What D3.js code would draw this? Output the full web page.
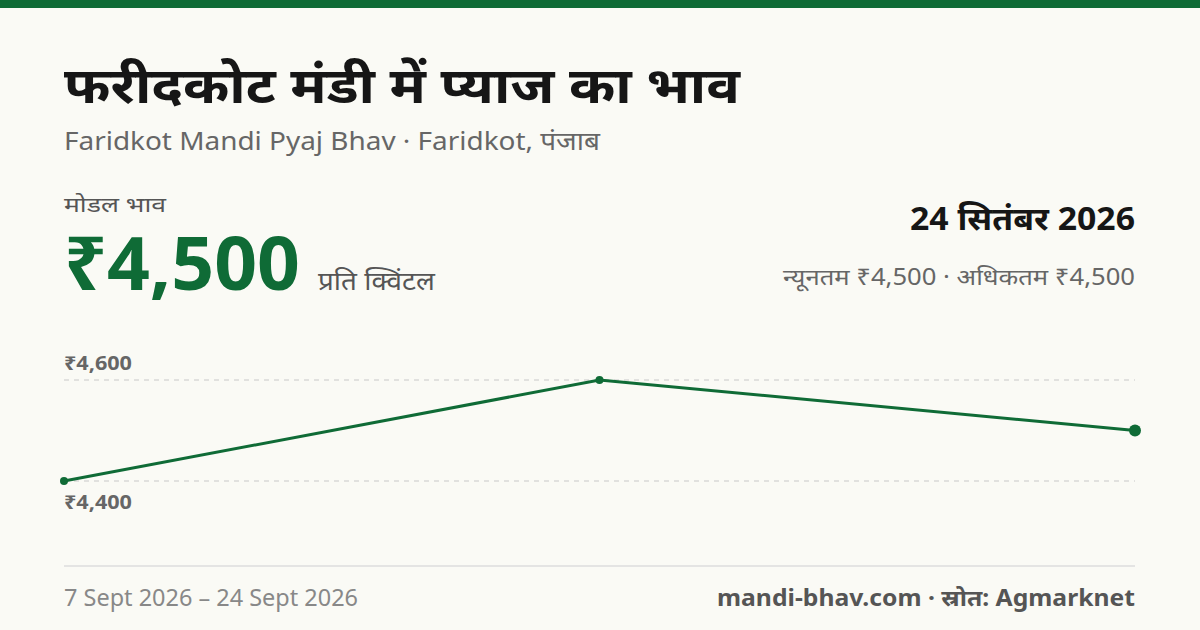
<!DOCTYPE html>
<html><head><meta charset="utf-8">
<script src="https://cdn.jsdelivr.net/npm/d3@7"></script>
<style>body{margin:0;background:#fafaf5}svg{display:block;font-family:"Noto Sans","Noto Sans Devanagari",sans-serif}</style>
</head><body><svg id="c" width="1200" height="630"></svg>
<script>
const dates=["7 Sept 2026","16 Sept 2026","24 Sept 2026"];
const prices=[4400,4600,4500];
const yTicks=[4400,4600];
const green="#0f6b36";
const svg=d3.select("#c");
svg.append("rect").attr("width",1200).attr("height",630).attr("fill","#fafaf5");
svg.append("rect").attr("width",1200).attr("height",8).attr("fill",green);
const t=(x,y,s,txt,o={})=>{const e=svg.append("text").attr("x",x).attr("y",y).attr("font-size",s)
 .attr("font-weight",o.w||400).attr("fill",o.c||"#222").attr("text-anchor",o.a||"start").text(txt);
 if(o.L)e.attr("textLength",o.L).attr("lengthAdjust","spacingAndGlyphs");return e;};
t(64,103,50,"फरीदकोट मंडी में प्याज का भाव",{w:700,c:"#161616",L:676});
t(64,150,25,"Faridkot Mandi Pyaj Bhav · Faridkot, पंजाब",{c:"#666",L:536});
t(64,212,21,"मोडल भाव",{c:"#555",L:102});
t(64,290,74,"₹4,500",{w:700,c:green,L:236});
t(318,290,25,"प्रति क्विंटल",{c:"#555",L:117});
t(1135,230,32,"24 सितंबर 2026",{w:700,a:"end",c:"#161616",L:225});
t(1135,285,23,"न्यूनतम ₹4,500 · अधिकतम ₹4,500",{a:"end",c:"#666",L:352});
const x=d3.scalePoint().domain(dates).range([64,1135]);
const y=d3.scaleLinear().domain([4400,4600]).range([481,380]);
yTicks.forEach(v=>{
 svg.append("line").attr("x1",64).attr("x2",1135).attr("y1",y(v)).attr("y2",y(v))
  .attr("stroke","#c8c8c8").attr("stroke-dasharray","5,5");
 t(64,v===4600?y(v)-10:y(v)+28,19,"₹"+d3.format(",")(v),{w:700,c:"#666",L:68});
});
const data=dates.map((d,i)=>({d,v:prices[i]}));
svg.append("path").datum(data).attr("fill","none").attr("stroke",green).attr("stroke-width",3)
 .attr("d",d3.line().x(p=>x(p.d)).y(p=>y(p.v)));
svg.selectAll("circle").data(data).join("circle").attr("cx",p=>x(p.d)).attr("cy",p=>y(p.v))
 .attr("r",(p,i)=>i===data.length-1?6:4).attr("fill",green);
svg.append("line").attr("x1",64).attr("x2",1135).attr("y1",566).attr("y2",566).attr("stroke","#ddd").attr("stroke-width",1.5);
t(64,606,23,"7 Sept 2026 – 24 Sept 2026",{c:"#888",L:294});
t(1135,606,23,"mandi-bhav.com · स्रोत: Agmarknet",{w:700,a:"end",c:"#555",L:418});
</script></body></html>
